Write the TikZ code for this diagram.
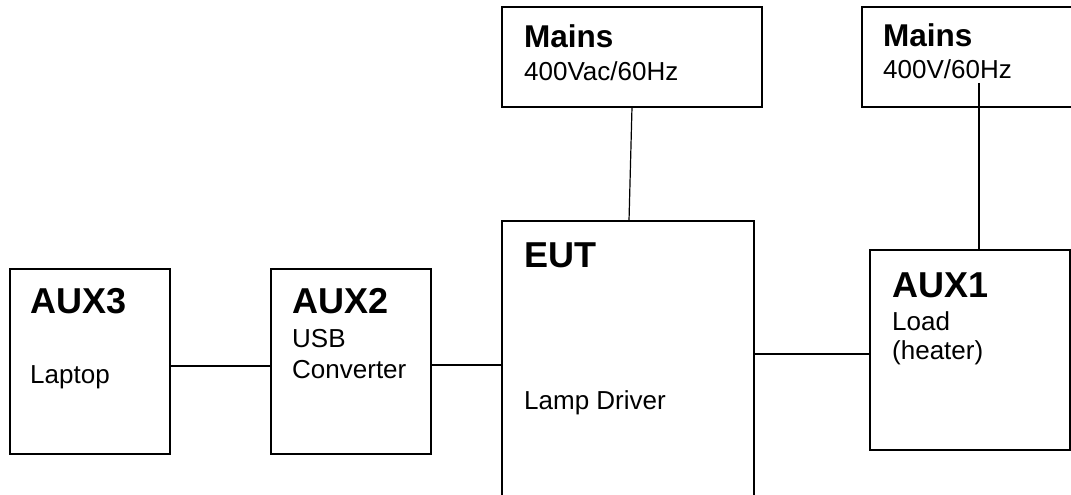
\documentclass[tikz,border=0pt]{standalone}
\usepackage{fontspec}
\setmainfont{Liberation Sans}
\tikzset{
  blk/.style={draw, line width=1.3pt, inner sep=0pt, outer sep=0pt, anchor=north west},
  wire/.style={line width=1.2pt},
  bigtitle/.style={anchor=base west, inner sep=0pt, font=\fontsize{36}{40}\selectfont\bfseries},
  midtitle/.style={anchor=base west, inner sep=0pt, font=\fontsize{31.5}{36}\selectfont\bfseries},
  body/.style={anchor=base west, inner sep=0pt, font=\fontsize{26}{31}\selectfont}
}
\begin{document}
\begin{tikzpicture}[x=1pt,y=-1pt]
\useasboundingbox (0,0) rectangle (1071,495);
\clip (0,0) rectangle (1071,495);
% boxes
\node[blk, minimum width=260pt, minimum height=100pt] (m1) at (502,7) {};
\node[blk, minimum width=220pt, minimum height=100pt] (m2) at (862,7) {};
\node[blk, minimum width=252pt, minimum height=300pt] (eut) at (502,221) {};
\node[blk, minimum width=160pt, minimum height=185pt] (aux3) at (10,269) {};
\node[blk, minimum width=160pt, minimum height=185pt] (aux2) at (271,269) {};
\node[blk, minimum width=200pt, minimum height=200pt] (aux1) at (870,250) {};
% texts
\node[midtitle] (m1t) at (524,48) {Mains};
\node[body] (m1s) at (524,81) {400Vac/60Hz};
\node[midtitle] (m2t) at (883,47) {Mains};
\node[body] (m2s) at (883,78) {400V/60Hz};
\node[bigtitle] (eutt) at (524,267) {EUT};
\node[body] (euts) at (524,409) {Lamp Driver};
\node[bigtitle] (aux3t) at (30,313) {AUX3};
\node[body] (aux3s) at (30,383) {Laptop};
\node[bigtitle] (aux2t) at (292,313) {AUX2};
\node[body] (aux2s) at (292,347) {USB};
\node[body] (aux2u) at (292,378) {Converter};
\node[bigtitle] (aux1t) at (892,297) {AUX1};
\node[body] (aux1s) at (892,330) {Load};
\node[body] (aux1u) at (892,359) {(heater)};
% connectors
\draw[wire] ([xshift=130pt]m1.south west) -- ([xshift=127pt]eut.north west);
\draw[wire] ([xshift=117pt,yshift=-76pt]m2.north west) -- ([xshift=109pt]aux1.north west);
\draw[wire] ([yshift=-4.5pt]aux3.east) -- ([yshift=-4.5pt]aux2.west);
\draw[wire] ([yshift=-3.5pt]aux2.east) -- ([yshift=-3.5pt]aux2.east -| eut.west);
\draw[wire] ([yshift=-4pt]aux1.west) -- ([yshift=-4pt]aux1.west -| eut.east);
\end{tikzpicture}
\end{document}
